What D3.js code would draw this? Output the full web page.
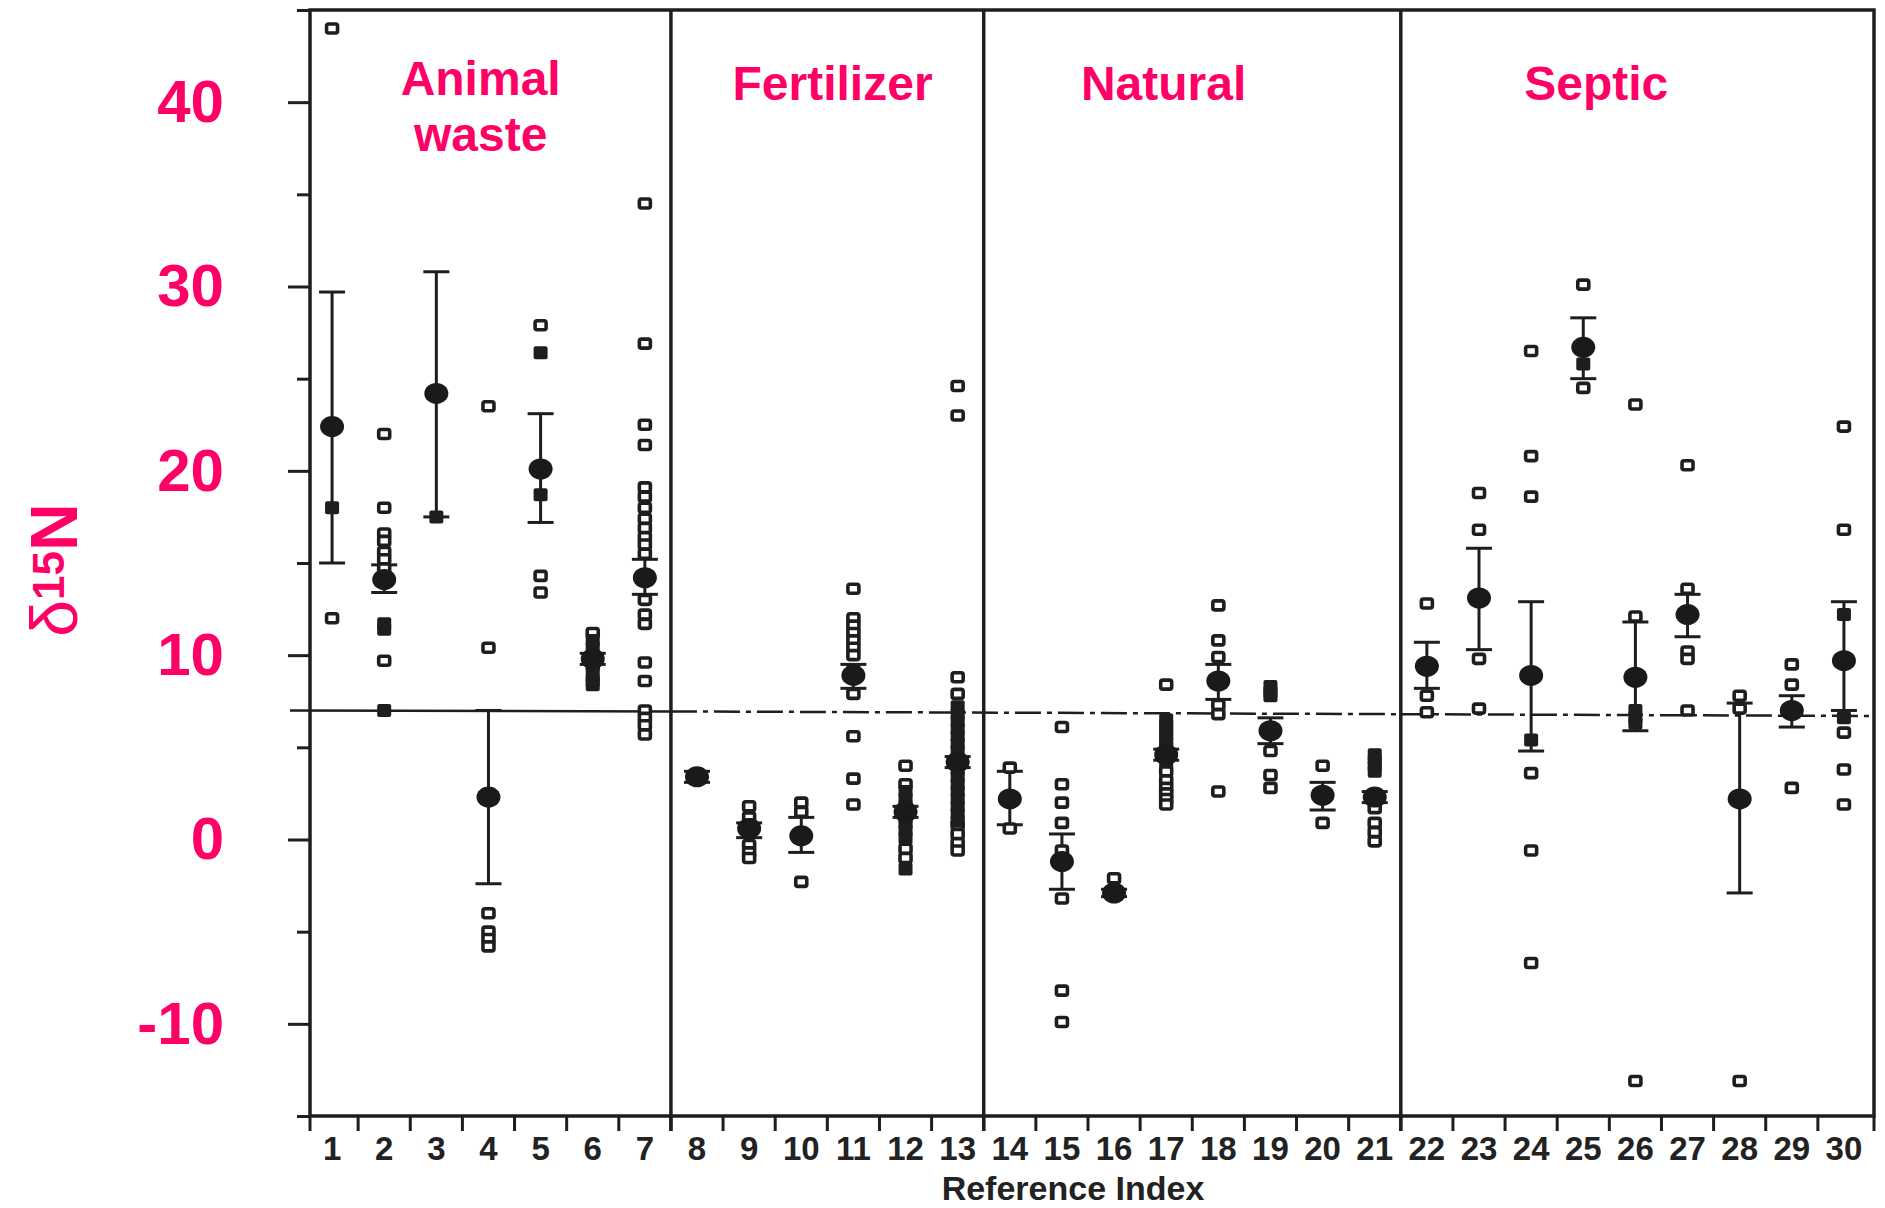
<!DOCTYPE html>
<meta charset="utf-8">
<style>
body { margin: 0; background: #fff; }
svg { display: block; }
.frame, .divider { fill: none; stroke: #1e1e1e; stroke-width: 3.5; }
.axis .domain { display: none; }
.axis .tick line { stroke: #1e1e1e; stroke-width: 3; }
.xaxis text { font-family: "Liberation Sans", Arial, sans-serif; font-weight: bold; font-size: 33px; fill: #222; }
.yaxis text { font-family: "Liberation Sans", Arial, sans-serif; font-weight: bold; font-size: 60px; fill: #ff0066; }
.pink { fill: #ff0066; font-family: "Liberation Sans", Arial, sans-serif; font-weight: bold; }
.err { stroke: #1e1e1e; stroke-width: 3; }
.mean { fill: #1a1a1a; }
.open { fill: #fff; stroke: #1e1e1e; stroke-width: 3.6; }
.solid { fill: #1e1e1e; }
.ref { stroke: #1e1e1e; stroke-width: 2.5; fill: none; }
</style>
<svg width="1885" height="1208"></svg>
<script src="https://d3js.org/d3.v7.min.js"></script>
<script>

// ---- data ----
var indices = d3.range(1, 31);
var groupNames = [["Animal", "waste"], ["Fertilizer"], ["Natural"], ["Septic"]];
var groupLast = [7, 13, 21, 30];
var groupLabelAt = [3.85, 10.6, 16.95, 25.25];
var yMajorTicks = [-10, 0, 10, 20, 30, 40];
var yMinorTicks = [-15, -5, 5, 15, 25, 35, 45];
var referenceLevel = 6.9;

var means = [22.4, 14.1, 24.2, 2.3, 20.1, 9.8, 14.2, 3.4, 0.6, 0.2,
             8.9, 1.5, 4.2, 2.2, -1.2, -2.9, 4.6, 8.6, 5.9, 2.4,
             2.3, 9.4, 13.1, 8.9, 26.7, 8.8, 12.2, 2.2, 7.0, 9.7];
var lows  = [15.0, 13.4, 17.5, -2.4, 17.2, 9.5, 13.3, 3.1, 0.1, -0.7,
             8.2, 1.2, 3.9, 0.8, -2.7, -3.1, 4.3, 7.6, 5.2, 1.6,
             2.0, 8.2, 10.3, 4.8, 25.0, 5.9, 11.0, -2.9, 6.1, 7.0];
var highs = [29.7, 14.9, 30.8, 7.0, 23.1, 10.1, 15.2, 3.7, 0.9, 1.2,
             9.5, 1.8, 4.5, 3.7, 0.3, -2.7, 4.9, 9.5, 6.6, 3.1,
             2.6, 10.7, 15.8, 12.9, 28.3, 11.8, 13.3, 7.4, 7.8, 12.9];

var openSquares = [
  [44.0, 12.0],
  [22.0, 18.0, 16.6, 16.2, 15.6, 15.2, 14.7, 9.7],
  [],
  [23.5, 10.4, -4.0, -5.0, -5.4, -5.8],
  [27.9, 14.3, 13.4],
  [11.2, 9.4],
  [34.5, 26.9, 22.5, 21.4, 19.1, 18.6, 18.0, 17.4, 16.9, 16.4, 16.0, 15.5, 13.0, 12.2, 11.7, 9.6, 8.6, 7.0, 6.6, 6.2, 5.7],
  [],
  [1.8, 1.2, -0.3, -0.7, -1.0],
  [2.0, 1.5, -2.3],
  [13.6, 12.0, 11.6, 11.2, 10.8, 10.4, 10.0, 7.9, 5.6, 3.3, 1.9],
  [4.0, 3.0, -0.5, -1.0],
  [24.6, 23.0, 8.8, 7.9, 0.8, 0.3, -0.2, -0.6],
  [3.9, 0.6],
  [6.1, 3.0, 2.0, 0.9, -0.6, -3.2, -8.2, -9.9],
  [-2.1],
  [8.4, 3.7, 3.2, 2.8, 2.5, 2.2, 1.9],
  [12.7, 10.8, 9.9, 7.3, 6.8, 2.6],
  [4.8, 3.5, 2.8],
  [4.0, 0.9],
  [1.7, 0.9, 0.4, -0.1],
  [12.8, 7.8, 6.9],
  [18.8, 16.8, 9.8, 7.1],
  [26.5, 20.8, 18.6, 3.6, -0.6, -6.7],
  [30.1, 24.5],
  [23.6, 12.1, -13.1],
  [20.3, 13.6, 10.2, 9.8, 7.0],
  [7.8, 7.1, -13.1],
  [9.5, 8.4, 2.8],
  [22.4, 16.8, 5.8, 3.8, 1.9]
];

var solidSquares = [
  [18.0],
  [11.7, 11.4, 7.0],
  [17.5],
  [],
  [26.4, 18.7],
  [10.8, 10.4, 8.9, 8.6, 8.4],
  [],
  [],
  [0.8, 0.4],
  [],
  [9.2],
  [2.6, 2.2, 1.8, 1.2, 0.9, 0.5, 0.1, -1.6],
  [7.2, 6.8, 6.4, 6.0, 5.6, 5.2, 4.8, 3.8, 3.4, 3.0, 2.6, 2.2, 1.8, 1.4, 1.0],
  [],
  [],
  [],
  [6.5, 6.2, 5.9, 5.6, 5.3, 5.0, 4.2],
  [],
  [8.3, 8.0, 7.8],
  [],
  [4.6, 4.3, 4.0, 3.7],
  [],
  [],
  [5.4],
  [25.8],
  [7.0, 6.6, 6.3],
  [],
  [],
  [],
  [12.2, 6.6]
];

// ---- layout ----
var svg = d3.select("svg"),
    width = +svg.attr("width"),
    height = +svg.attr("height");

var frameLeft = 310, frameRight = 1874;

var x = d3.scaleBand()
    .domain(indices)
    .range([306, 1870]);

var y = d3.scaleLinear()
    .domain([-15, 45])
    .range([1116, 10]);

var bw = x.bandwidth();
function cx(i) { return x(i) + bw / 2; }

var xc = d3.scaleLinear()
    .domain([1, 30])
    .range([cx(1), cx(30)]);

// reference level line (solid across the first panel, dashed after)
svg.append("line")
    .attr("class", "ref")
    .attr("x1", frameLeft - 20)
    .attr("x2", x(groupLast[0] + 1))
    .attr("y1", y(referenceLevel + 0.1))
    .attr("y2", y(referenceLevel + 0.05));
svg.append("line")
    .attr("class", "ref")
    .attr("stroke-dasharray", "26,6,5,6")
    .attr("x1", x(groupLast[0] + 1))
    .attr("x2", frameRight)
    .attr("y1", y(referenceLevel + 0.05))
    .attr("y2", y(referenceLevel - 0.2));

// frame
svg.append("rect")
    .attr("class", "frame")
    .attr("x", frameLeft)
    .attr("y", y(45))
    .attr("width", frameRight - frameLeft)
    .attr("height", y(-15) - y(45));

// panel dividers
svg.selectAll(".divider")
  .data(groupLast.slice(0, 3))
  .enter().append("line")
    .attr("class", "divider")
    .attr("x1", function(d) { return x(d + 1); })
    .attr("x2", function(d) { return x(d + 1); })
    .attr("y1", y(45))
    .attr("y2", y(-15) + 15);

// x boundary ticks
function boundaryX(d) {
  if (d === 1) return frameLeft;
  if (d === 31) return frameRight;
  return x(d);
}
svg.selectAll(".xb")
  .data(indices.concat([31]))
  .enter().append("line")
    .attr("class", "xb")
    .attr("stroke", "#1e1e1e")
    .attr("stroke-width", 3)
    .attr("x1", boundaryX)
    .attr("x2", boundaryX)
    .attr("y1", y(-15))
    .attr("y2", y(-15) + 15);

// x labels
svg.append("g")
    .attr("class", "axis xaxis")
    .attr("transform", "translate(0," + y(-15) + ")")
    .call(d3.axisBottom(x).tickSize(0).tickPadding(21))
    .selectAll("text")
      .attr("font-size", null)
      .attr("font-family", null);

svg.append("text")
    .attr("x", 1073)
    .attr("y", 1200)
    .attr("text-anchor", "middle")
    .attr("font-family", "Liberation Sans, Arial, sans-serif")
    .attr("font-weight", "bold")
    .attr("font-size", 34)
    .attr("fill", "#222")
    .text("Reference Index");

// y axis
svg.append("g")
    .attr("class", "axis")
    .attr("transform", "translate(" + frameLeft + ",0)")
    .call(d3.axisLeft(y).tickValues(yMinorTicks).tickSize(13).tickFormat(""));

var gMajor = svg.append("g")
    .attr("class", "axis yaxis")
    .attr("transform", "translate(" + frameLeft + ",0)")
    .call(d3.axisLeft(y).tickValues(yMajorTicks).tickSize(22).tickPadding(64)
      .tickFormat(function(d) { return String(d); }));
gMajor.selectAll("text")
    .attr("font-size", null)
    .attr("font-family", null);

// y title
var yt = svg.append("text")
    .attr("class", "pink")
    .attr("transform", "translate(77,570) rotate(-90)")
    .attr("text-anchor", "middle")
    .attr("font-size", 66);
yt.append("tspan").attr("font-weight", "normal").text("\u03b4");
yt.append("tspan").attr("font-size", 44).attr("dy", -13).text("15");
yt.append("tspan").attr("dy", 13).text("N");

// group labels
groupNames.forEach(function(lines, gi) {
  lines.forEach(function(t, li) {
    svg.append("text")
        .attr("class", "pink")
        .attr("x", xc(groupLabelAt[gi]))
        .attr("y", (lines.length > 1 ? 95 : 100) + li * 56)
        .attr("text-anchor", "middle")
        .attr("font-size", 48)
        .text(t);
  });
});

// error bars
var eb = svg.append("g").selectAll("g")
  .data(indices)
  .enter().append("g");
eb.append("line")
    .attr("class", "err")
    .attr("x1", cx).attr("x2", cx)
    .attr("y1", function(d) { return y(lows[d - 1]); })
    .attr("y2", function(d) { return y(highs[d - 1]); });
[lows, highs].forEach(function(arr) {
  eb.append("line")
      .attr("class", "err")
      .attr("x1", function(d) { return cx(d) - 13; })
      .attr("x2", function(d) { return cx(d) + 13; })
      .attr("y1", function(d) { return y(arr[d - 1]); })
      .attr("y2", function(d) { return y(arr[d - 1]); });
});

// individual observations
function flatten(lists) {
  var out = [];
  lists.forEach(function(vals, i) {
    vals.forEach(function(v) { out.push({ idx: i + 1, v: v }); });
  });
  return out;
}

svg.append("g").selectAll("rect")
  .data(flatten(openSquares))
  .enter().append("rect")
    .attr("class", "open")
    .attr("x", function(d) { return cx(d.idx) - 5.5; })
    .attr("y", function(d) { return y(d.v) - 4.5; })
    .attr("width", 11)
    .attr("height", 9)
    .attr("rx", 2);

svg.append("g").selectAll("rect")
  .data(flatten(solidSquares))
  .enter().append("rect")
    .attr("class", "solid")
    .attr("x", function(d) { return cx(d.idx) - 7; })
    .attr("y", function(d) { return y(d.v) - 6.5; })
    .attr("width", 14)
    .attr("height", 13)
    .attr("rx", 2);

// means
svg.append("g").selectAll("ellipse")
  .data(indices)
  .enter().append("ellipse")
    .attr("class", "mean")
    .attr("cx", cx)
    .attr("cy", function(d) { return y(means[d - 1]); })
    .attr("rx", 12)
    .attr("ry", 10.5);

</script>
